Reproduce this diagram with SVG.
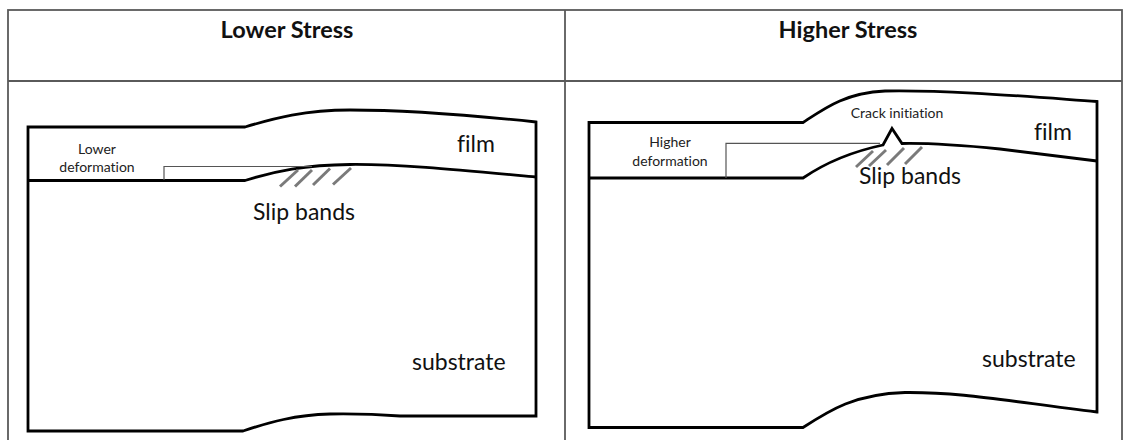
<svg xmlns="http://www.w3.org/2000/svg" width="1130" height="440" viewBox="0 0 1130 440">
  <style>
    text { font-variant-ligatures: none; font-feature-settings: "liga" 0, "clig" 0; }
    .grid { fill: none; stroke: #5a5a5a; stroke-width: 1.8; }
    .body { fill: #ffffff; stroke: #000000; stroke-width: 2.8; stroke-linejoin: miter; }
    .iface { fill: none; stroke: #000000; stroke-width: 2.8; stroke-linejoin: miter; }
    .lead { fill: none; stroke: #555555; stroke-width: 1.2; }
    .slip { fill: none; stroke: #7a7a7a; stroke-width: 3; }
    .head { font-family: Lato, "Open Sans", sans-serif; font-weight: bold; font-size: 23.5px; fill: #111; text-anchor: middle; }
    .lbl { font-family: Lato, "Open Sans", sans-serif; font-size: 23px; fill: #111; }
    .note { font-family: Lato, "Open Sans", sans-serif; font-size: 14px; fill: #222; text-anchor: middle; }
  </style>

  <rect width="1130" height="440" fill="#ffffff"/>

  <!-- table frame -->
  <g id="table">
    <rect class="grid" x="8" y="10" width="1114" height="450"/>
    <line class="grid" x1="8" y1="81" x2="1122" y2="81"/>
    <line class="grid" x1="565" y1="10" x2="565" y2="440"/>
    <text class="head" x="287" y="38">Lower Stress</text>
    <text class="head" x="848" y="38">Higher Stress</text>
  </g>

  <!-- lower stress: film on substrate -->
  <g id="panel-lower">
    <path class="body" d="M28,127 H245 C275,118 305,110 350,110 C400,110 460,114 536,122 V416 H400 C380,414.5 360,413.5 330,414 C295,415 270,422 243,431 H28 Z"/>
    <path class="iface" d="M28,180.5 H245 C275,171 305,165 350,164.5 C400,164 460,170 536,177"/>
    <g id="slip-lower">
      <line class="slip" x1="280" y1="186.5" x2="298" y2="170"/>
      <line class="slip" x1="295" y1="186.5" x2="312" y2="170"/>
      <line class="slip" x1="313" y1="185" x2="330" y2="168.5"/>
      <line class="slip" x1="333" y1="184.5" x2="351" y2="168"/>
    </g>
    <text class="note" x="97" y="154">Lower</text>
    <text class="note" x="97" y="171.5">deformation</text>
    <text class="lbl" x="457" y="152">film</text>
    <text class="lbl" x="253" y="220">Slip bands</text>
    <text class="lbl" x="412" y="370">substrate</text>
  </g>

  <!-- higher stress: film on substrate with crack -->
  <g id="panel-higher">
    <path class="body" d="M589,122.5 H803 C825,108 845,93 885,91 C950,90 1020,96 1097,101.5 V412 C1000,400 960,392 905,392.5 C855,394 830,410 803,427.5 H589 Z"/>
    <path class="iface" d="M589,178 H803 C825,163 850,152 883,145 L892,128.5 L902,143.5 C930,143 960,145 1000,149 C1040,154 1070,157.5 1097,161"/>
    <g id="slip-higher">
      <line class="slip" x1="856" y1="167" x2="873" y2="151"/>
      <line class="slip" x1="869" y1="166" x2="886" y2="150"/>
      <line class="slip" x1="887" y1="165" x2="904" y2="148"/>
      <line class="slip" x1="905" y1="164" x2="922" y2="147"/>
    </g>
    <text class="note" x="670" y="147">Higher</text>
    <text class="note" x="670" y="166">deformation</text>
    <text class="note" x="897" y="118">Crack initiation</text>
    <text class="lbl" x="1034" y="140">film</text>
    <text class="lbl" x="859" y="184">Slip bands</text>
    <text class="lbl" x="982" y="367">substrate</text>
  </g>

  <!-- deformation height leaders -->
  <g id="connectors">
    <path class="lead" d="M164,180 V166.5 H312"/>
    <path class="lead" d="M726,178 V143.3 H880"/>
  </g>
</svg>
